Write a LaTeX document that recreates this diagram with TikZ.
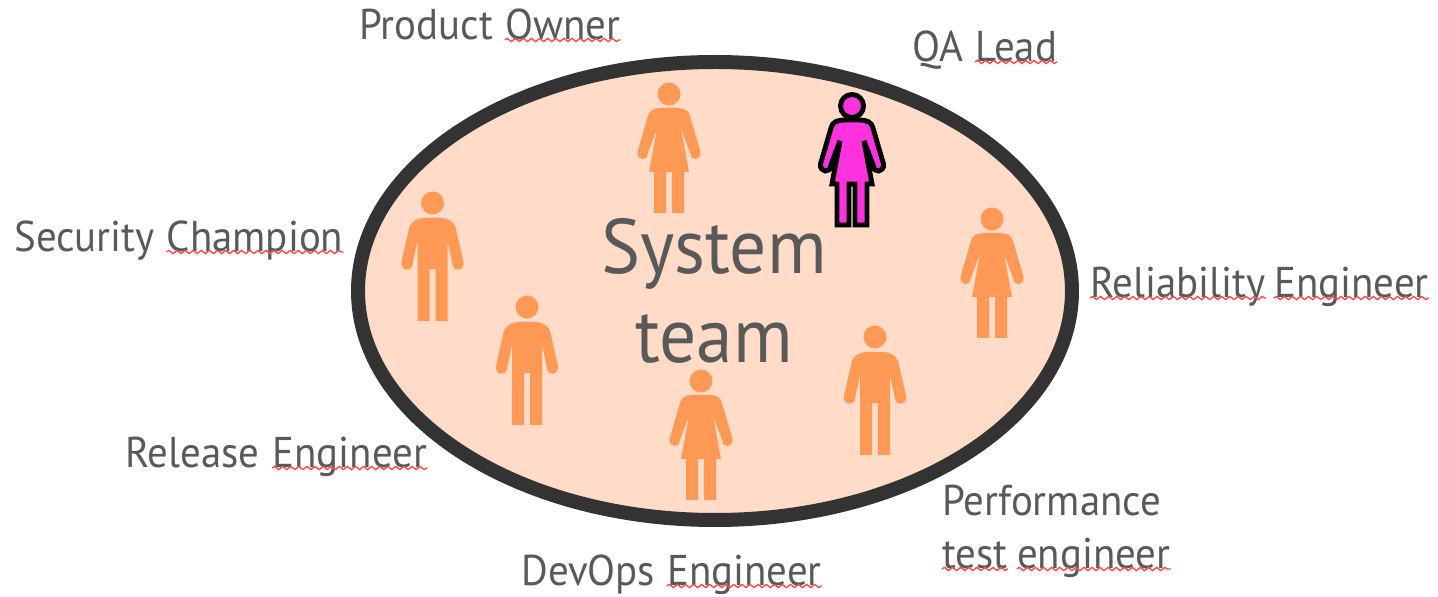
\documentclass[tikz,border=0pt]{standalone}
\usepackage{fontspec}
\setmainfont[FakeStretch=0.95]{PT Sans}
\usepackage{tikz}
\usetikzlibrary{decorations.pathmorphing, positioning}
\definecolor{ringgrey}{HTML}{333333}
\definecolor{peach}{HTML}{FFDBC8}
\definecolor{figorange}{HTML}{FF9955}
\definecolor{figpink}{HTML}{FF33DD}
\definecolor{labgrey}{HTML}{595959}
\tikzstyle{lab} = [text=labgrey, font=\fontsize{24.5}{24.5}\selectfont, inner sep=0pt, anchor=base west]
\tikzstyle{big} = [text=labgrey, font=\fontsize{44}{44}\selectfont, inner sep=0pt, anchor=base]
\tikzstyle{squig} = [red!70!white, line width=0.8pt, yshift=-4.4pt, decorate, decoration={snake, segment length=4.6pt, amplitude=0.9pt}]
\tikzstyle{plainfig} = [fill=figorange]
\tikzstyle{pinkfig} = [fill=figpink, draw=black, line width=2.8pt, line join=miter]
\tikzset{
  manfig/.pic={
    \path[pic actions] (0,0) circle (11.5);
    \path[pic actions] (-8,15) .. controls (-14,15) and (-21,18) .. (-23,24) -- (-31,59)
      .. controls (-32,69) and (-20,69) .. (-20,61) -- (-15,38) -- (-15,118) -- (-3,118) -- (-3,66)
      -- (3,66) -- (3,118) -- (15,118) -- (15,38) -- (20,61)
      .. controls (20,69) and (32,69) .. (31,59) -- (23,24)
      .. controls (21,18) and (14,15) .. (8,15) -- cycle;
  },
  womanfig/.pic={
    \path[pic actions] (0,0) circle (11.5);
    \path[pic actions] (-8,14) .. controls (-14,14) and (-20,16) .. (-21,22) -- (-31.5,58)
      .. controls (-32.5,67) and (-21,67) .. (-21.5,60) -- (-12,35) -- (-20,78) -- (-15,78) -- (-15,119) -- (-3,119) -- (-3,78)
      -- (3,78) -- (3,119) -- (15,119) -- (15,78) -- (20,78) -- (12,35) -- (21.5,60)
      .. controls (21,67) and (32.5,67) .. (31.5,58) -- (21,22)
      .. controls (20,16) and (14,14) .. (8,14) -- cycle;
  }
}
\begin{document}
\begin{tikzpicture}[x=0.02cm,y=-0.02cm]
  \useasboundingbox (0,0) rectangle (1438,597);
  \draw[ringgrey, fill=peach, line width=0.28cm] (715,291) ellipse [x radius=357, y radius=229];

  % the team
  \pic[plainfig] at (669,94) {womanfig};
  \pic[pinkfig] at (852,106) {womanfig};
  \pic[plainfig] at (992,219) {womanfig};
  \pic[plainfig] at (432.5,203) {manfig};
  \pic[plainfig] at (527,307) {manfig};
  \pic[plainfig] at (701,381) {womanfig};
  \pic[plainfig] at (875,337) {manfig};

  \node[big] (system) at (714,274) {System};
  \node[big] (team) at (714,363) {team};

  % labels, one node per word
  \node[lab] (product) at (359,40) {Product};
  \node[lab, right=6.5pt of product.base east, anchor=base west] (owner) {Owner};
  \node[lab] (qa) at (912,62) {QA};
  \node[lab, right=6.5pt of qa.base east, anchor=base west] (lead) {Lead};
  \node[lab] (security) at (14,252) {Security};
  \node[lab, right=6.5pt of security.base east, anchor=base west] (champion) {Champion};
  \node[lab] (reliability) at (1090,298) {Reliability};
  \node[lab, right=4.5pt of reliability.base east, anchor=base west] (reliabilityeng) {Engineer};
  \node[lab] (release) at (125,468) {Release};
  \node[lab, right=7pt of release.base east, anchor=base west] (releaseeng) {Engineer};
  \node[lab] (devops) at (521,586) {DevOps};
  \node[lab, right=6.5pt of devops.base east, anchor=base west] (devopseng) {Engineer};
  \node[lab] (performance) at (942,516) {Performance};
  \node[lab] (test) at (942,569) {test};
  \node[lab, right=5pt of test.base east, anchor=base west] (testeng) {engineer};

  % spell check marks
  \foreach \wrd in {owner, lead, champion, reliability, reliabilityeng, releaseeng, devopseng, test, testeng}
    \draw[squig] (\wrd.base west) -- (\wrd.base east);
\end{tikzpicture}
\end{document}
